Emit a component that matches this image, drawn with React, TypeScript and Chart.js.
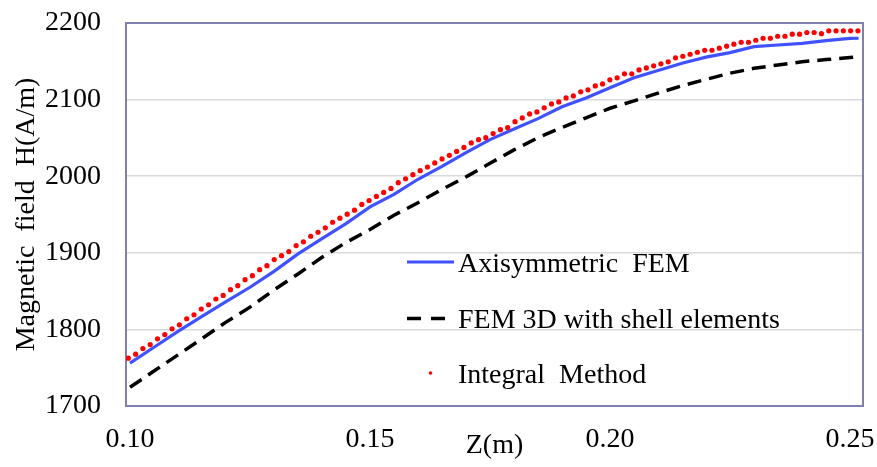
import React, { useEffect, useRef } from 'react';
import { Chart, registerables } from 'chart.js';

Chart.register(...registerables);

// X tick labels (m)
const zTicks = [0.1, 0.15, 0.2, 0.25];
// Y axis range / step (A/m)
const yMin = 1700;
const yMax = 2200;
const yStep = 100;

// Sample positions of the two FEM curves (m)
const zLine = [
  0.1, 0.105, 0.11, 0.115, 0.12, 0.125, 0.13, 0.135, 0.14, 0.145, 0.15,
  0.155, 0.16, 0.165, 0.17, 0.175, 0.18, 0.185, 0.19, 0.195, 0.2,
  0.205, 0.21, 0.215, 0.22, 0.225, 0.23, 0.235, 0.24, 0.245, 0.25, 0.2518,
];

const axisymmetricFEM = [
  1756, 1776.7, 1797.4, 1817.1, 1836.3, 1855, 1875.8, 1898.6, 1918.4, 1938.1, 1959.9,
  1976.2, 1996, 2012.8, 2030.8, 2047.7, 2061.7, 2075.2, 2090.6, 2102.1, 2115.5,
  2128.5, 2138, 2147.5, 2155.5, 2161.4, 2169.2, 2171.3, 2173.3, 2176.9, 2180, 2180.1,
];

const zDashed = [
  0.1, 0.105, 0.11, 0.115, 0.12, 0.125, 0.13, 0.135, 0.14, 0.145, 0.15,
  0.155, 0.16, 0.165, 0.17, 0.175, 0.18, 0.185, 0.19, 0.195, 0.2,
  0.205, 0.21, 0.215, 0.22, 0.225, 0.23, 0.235, 0.24, 0.245, 0.25, 0.2515,
];

const fem3DShell = [
  1724.4, 1745.7, 1766.7, 1788, 1809.5, 1829.1, 1851.5, 1872.4, 1894.1, 1913.5, 1930.4,
  1949, 1965.4, 1982.8, 1999.1, 2016.9, 2034.4, 2050.2, 2063.6, 2076.1, 2088.7,
  2098.4, 2108.4, 2118, 2126.4, 2134.5, 2140.8, 2145.2, 2149.4, 2152.2, 2155, 2156,
];

// Integral method: 101 evenly spaced samples
const zDotStart = 0.09965;
const zDotStep = 0.00152;
const integralMethod = [
  1762.4, 1767.7, 1775.0, 1780.2, 1787.7, 1793.3, 1800.8, 1806.0, 1813.9, 1819.1,
  1826.6, 1832.2, 1839.7, 1844.4, 1851.8, 1857.1, 1864.9, 1870.2, 1878.0, 1883.2,
  1891.1, 1896.3, 1901.6, 1909.4, 1914.3, 1921.6, 1926.8, 1932.6, 1939.9, 1945.2,
  1950.4, 1955.6, 1963.1, 1968.3, 1973.6, 1978.8, 1984.0, 1991.5, 1996.7, 2002.0,
  2007.2, 2012.0, 2017.3, 2022.5, 2027.2, 2032.4, 2037.6, 2043.4, 2047.7, 2050.3,
  2055.6, 2060.8, 2063.4, 2071.2, 2076.1, 2081.3, 2083.9, 2089.2, 2094.4, 2097.0,
  2102.2, 2104.8, 2110.1, 2112.7, 2117.9, 2120.5, 2125.8, 2128.4, 2133.6, 2133.6,
  2138.8, 2141.4, 2144.1, 2146.7, 2149.3, 2154.5, 2156.6, 2159.2, 2161.8, 2164.4,
  2164.4, 2167.1, 2169.7, 2172.3, 2174.9, 2174.9, 2177.5, 2180.1, 2180.1, 2182.7,
  2182.7, 2185.4, 2185.4, 2187.6, 2187.6, 2186.0, 2189.8, 2189.8, 2189.8, 2189.8,
  2189.8,
];
const zDots = integralMethod.map((_, i) => +(zDotStart + i * zDotStep).toFixed(5));

const seriesLabels = ['Axisymmetric  FEM', 'FEM 3D with shell elements', 'Integral  Method'];
const xTitle = 'Z(m)';
const yTitle = 'Magnetic  field  H(A/m)';

const FONT = "'Liberation Serif', 'Times New Roman', serif";
const BLUE = '#4052FF';
const RED = '#FF0000';
const BLACK = '#000000';
const FRAME = '#8080B0';

const framePlugin = {
  id: 'frame',
  beforeDatasetsDraw(chart: any) {
    const { ctx, chartArea: a } = chart;
    ctx.save();
    ctx.strokeStyle = FRAME;
    ctx.lineWidth = 2;
    ctx.strokeRect(a.left, a.top, a.right - a.left, a.bottom - a.top);
    ctx.restore();
  },
};

const legendPlugin = {
  id: 'insideLegend',
  afterDatasetsDraw(chart: any) {
    const { ctx, chartArea: a } = chart;
    const x0 = a.left + 281;
    const textX = a.left + 332;
    const rows = [a.top + 239, a.top + 295.5, a.top + 350];
    ctx.save();
    chart.data.datasets.forEach((ds: any, i: number) => {
      const y = rows[i];
      if (i === 0) {
        ctx.strokeStyle = ds.borderColor;
        ctx.lineWidth = 3;
        ctx.setLineDash([]);
        ctx.beginPath();
        ctx.moveTo(x0, y);
        ctx.lineTo(x0 + 47, y);
        ctx.stroke();
      } else if (i === 1) {
        ctx.strokeStyle = ds.borderColor;
        ctx.lineWidth = 3.5;
        ctx.setLineDash([14, 10]);
        ctx.beginPath();
        ctx.moveTo(x0, y);
        ctx.lineTo(x0 + 38, y);
        ctx.stroke();
        ctx.setLineDash([]);
      } else {
        ctx.fillStyle = ds.pointBackgroundColor;
        ctx.beginPath();
        ctx.arc(x0 + 23.5, y, 1.8, 0, Math.PI * 2);
        ctx.fill();
      }
      ctx.fillStyle = BLACK;
      ctx.font = `28px ${FONT}`;
      ctx.textAlign = 'left';
      ctx.textBaseline = 'middle';
      ctx.fillText(ds.label, textX, y + 2.5);
    });
    ctx.restore();
  },
};

export default function App() {
  const canvasRef = useRef<HTMLCanvasElement | null>(null);

  useEffect(() => {
    const canvas = canvasRef.current;
    if (!canvas) return;
    const chart = new Chart(canvas, {
      type: 'line',
      data: {
        datasets: [
          {
            label: seriesLabels[0],
            data: zLine.map((z, i) => ({ x: z, y: axisymmetricFEM[i] })),
            borderColor: BLUE,
            backgroundColor: BLUE,
            borderWidth: 3.2,
            pointRadius: 0,
            tension: 0,
            fill: false,
            order: 2,
          },
          {
            label: seriesLabels[1],
            data: zDashed.map((z, i) => ({ x: z, y: fem3DShell[i] })),
            borderColor: BLACK,
            backgroundColor: BLACK,
            borderWidth: 3.5,
            borderDash: [14, 8],
            borderCapStyle: 'butt',
            pointRadius: 0,
            tension: 0,
            fill: false,
            order: 3,
          },
          {
            label: seriesLabels[2],
            data: zDots.map((z, i) => ({ x: z, y: integralMethod[i] })),
            showLine: false,
            borderColor: RED,
            pointBackgroundColor: RED,
            backgroundColor: RED,
            pointBorderWidth: 0,
            pointRadius: 2.6,
            order: 1,
          },
        ] as any,
      },
      options: {
        animation: false,
        responsive: false,
        layout: { padding: { left: 0, right: 14, top: 23, bottom: 0 } },
        plugins: {
          legend: { display: false },
          tooltip: { enabled: false },
        },
        scales: {
          x: {
            type: 'linear',
            min: 0.099167,
            max: 0.252708,
            afterBuildTicks: (scale: any) => {
              scale.ticks = zTicks.map((v) => ({ value: v }));
            },
            afterFit: (scale: any) => {
              scale.height = 61;
              scale.paddingLeft = 0;
              scale.paddingRight = 0;
            },
            grid: { display: false, drawTicks: false },
            border: { display: false },
            ticks: {
              padding: 17,
              color: BLACK,
              font: { family: FONT, size: 28 },
              maxRotation: 0,
              autoSkip: false,
              callback: (v: any) => Number(v).toFixed(2),
            },
            title: {
              display: true,
              text: xTitle,
              color: BLACK,
              font: { family: FONT, size: 28 },
              padding: { top: 0, bottom: 5 },
            },
          },
          y: {
            type: 'linear',
            min: yMin,
            max: yMax,
            afterFit: (scale: any) => {
              scale.width = 126;
              scale.paddingTop = 0;
              scale.paddingBottom = 0;
            },
            grid: { color: '#D9D9D9', lineWidth: 1.5, drawTicks: false },
            border: { display: false },
            ticks: {
              stepSize: yStep,
              padding: 25,
              color: BLACK,
              font: { family: FONT, size: 28 },
              callback: (v: any) => String(Math.round(Number(v))),
            },
            title: {
              display: true,
              text: yTitle,
              color: BLACK,
              font: { family: FONT, size: 28 },
              padding: { top: 10, bottom: 0 },
            },
          },
        },
      } as any,
      plugins: [framePlugin, legendPlugin],
    });
    return () => chart.destroy();
  }, []);

  return (
    <div style={{ position: 'fixed', left: 0, top: 0, width: 877, height: 467, background: '#fff' }}>
      <canvas ref={canvasRef} width={877} height={467} style={{ display: 'block' }} />
    </div>
  );
}
